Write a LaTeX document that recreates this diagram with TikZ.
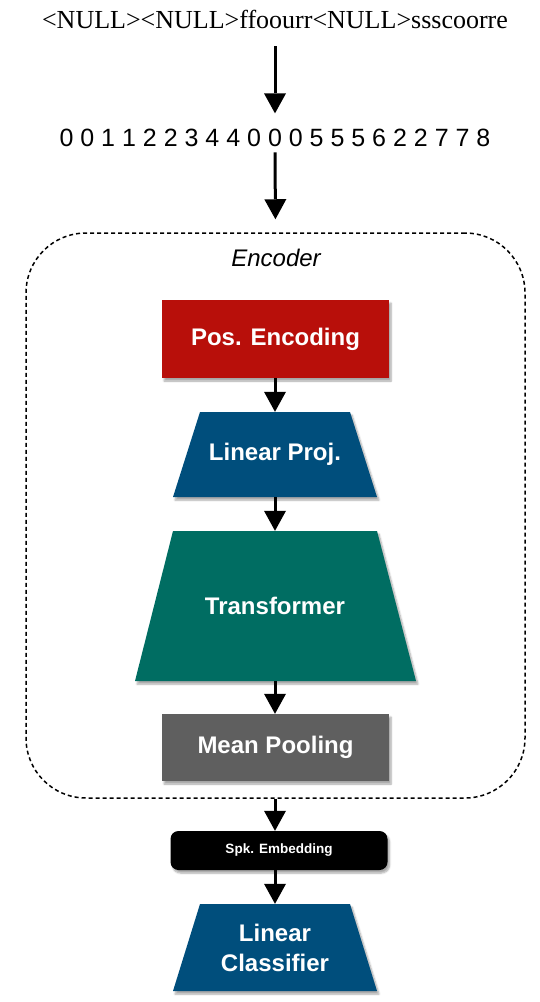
\documentclass[tikz,border=0pt]{standalone}
\usepackage{fontspec}
\setmainfont{Liberation Serif}
\setsansfont{Liberation Sans}
\usetikzlibrary{arrows.meta,shadows.blur}
\definecolor{posred}{RGB}{184,15,10}
\definecolor{projblue}{RGB}{0,78,124}
\definecolor{trgreen}{RGB}{0,109,98}
\definecolor{poolgrey}{RGB}{95,95,95}

\begin{document}
\begin{tikzpicture}[x=1pt, y=-1pt,
		shd/.style={blur shadow={shadow xshift=2pt, shadow yshift=-3pt, shadow blur steps=6, shadow opacity=35}},
		lbl/.style={text=white, inner sep=0pt, align=center, font=\sffamily\bfseries\fontsize{24}{30}\selectfont},
		blk/.style={lbl, shd, draw=none},
		arr/.style={line width=3pt, -{Triangle[length=20pt, width=22pt, line width=0pt, fill=black]}}]
				\useasboundingbox (0,0) rectangle (540,1002);
				\node[anchor=base, inner sep=0pt, font=\fontsize{26}{30}\selectfont] (chars) at (275,28) {<NULL><NULL>ffoourr<NULL>ssscoorre};
				\node[anchor=base, inner sep=0pt, font=\sffamily\fontsize{25}{30}\selectfont] (ids) at (275,146) {0 0 1 1 2 2 3 4 4 0 0 0 5 5 5 6 2 2 7 7 8};
				\node[draw, line width=1.5pt, dash pattern=on 4pt off 3pt, rounded corners=60pt,
					minimum width=499pt, minimum height=565pt] (enc) at (275.5,515.5) {};
				\node[anchor=base, font=\sffamily\itshape\fontsize{24}{30}\selectfont] (enclabel) at (276,266) {Encoder};
				\node[blk, fill=posred, minimum width=227pt, minimum height=78pt] (pos) at (275.5,339) {Pos. Encoding};
				\draw[shd, draw=none, fill=projblue] (200,412) -- (350,412) -- (377,497) -- (173,497) -- cycle;
				\node[lbl, minimum height=85pt] (proj) at (275,454.5) {Linear Proj.};
				\draw[shd, draw=none, fill=trgreen] (173,531) -- (377,531) -- (416,681) -- (135,681) -- cycle;
				\node[lbl, minimum height=150pt] (tf) at (275,606) {Transformer};
				\node[blk, fill=poolgrey, minimum width=227pt, minimum height=67pt] (pool) at (275.5,747.5) {Mean Pooling};
				\node[blk, fill=black, rounded corners=8pt, minimum width=217pt, minimum height=39pt,
					font=\sffamily\bfseries\fontsize{13.5}{16}\selectfont] (spk) at (279,850.5) {Spk. Embedding};
				\draw[shd, draw=none, fill=projblue] (200,904) -- (350,904) -- (377,991) -- (173,991) -- cycle;
				\node[lbl, minimum height=87pt] (cls) at (275,947.5) {Linear\\Classifier};
				\draw[arr, shorten <=18pt, shorten >=15pt] (chars.south) -- (ids.north);
				\draw[arr, shorten <=6pt, shorten >=13pt] (ids.south) -- (enc.north);
				\draw[arr] (pos.south -| proj.north) -- (proj.north);
				\draw[arr] (proj) -- (tf);
				\draw[arr] (tf) -- (pool.north -| tf.south);
				\draw[arr] (enc.south -| cls.north) -- (spk.north -| cls.north);
				\draw[arr] (spk.south -| cls.north) -- (cls.north);
			\end{tikzpicture}
\end{document}
